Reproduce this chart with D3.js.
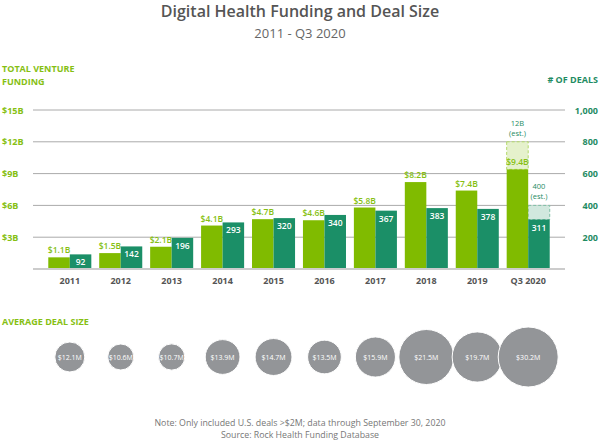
<!DOCTYPE html>
<html>
<head>
<meta charset="utf-8">
<script src="https://cdn.jsdelivr.net/npm/d3@7"></script>
<style>
  body { margin: 0; background: #fff; }
  svg { font-family: 'Open Sans', Lato, sans-serif; }
</style>
</head>
<body>
<div id="chart"></div>
<script>
const years = ['2011', '2012', '2013', '2014', '2015', '2016', '2017', '2018', '2019', 'Q3 2020']
const funding = [1.1, 1.5, 2.1, 4.1, 4.7, 4.6, 5.8, 8.2, 7.4, 9.4]
const deals = [92, 142, 196, 293, 320, 340, 367, 383, 378, 311]
const dealSize = [12.1, 10.6, 10.7, 13.9, 14.7, 13.5, 15.9, 21.5, 19.7, 30.2]
const fundingTicks = [3, 6, 9, 12, 15]
const dealTicks = [200, 400, 600, 800, 1000]
const estFunding = 12
const estDeals = 400

const lime = '#80bb00'
const dark = '#1b8f67'
const limeText = '#86bf13'
const darkText = '#1f8c63'

const width = 600
const height = 442

const svg = d3.select('#chart')
  .append('svg')
  .attr('width', width)
  .attr('height', height)

// titles
svg.append('text')
  .attr('x', 300).attr('y', 17)
  .attr('text-anchor', 'middle')
  .attr('fill', '#555')
  .attr('font-size', 16)
  .attr('font-weight', 600)
  .text('Digital Health Funding and Deal Size')

svg.append('text')
  .attr('x', 300).attr('y', 38)
  .attr('text-anchor', 'middle')
  .attr('fill', '#666')
  .attr('font-size', 13)
  .attr('font-weight', 400)
  .text('2011 - Q3 2020')

const x = d3.scaleBand()
  .domain(years)
  .range([33, 565])
  .paddingInner(0.155)
  .paddingOuter(0.3)

const half = x.bandwidth() / 2

const yFund = d3.scaleLinear().domain([0, 15]).range([269, 110])
const yDeals = d3.scaleLinear().domain([0, 1000]).range([269, 110])

// axis titles
svg.append('text')
  .attr('x', 2).attr('y', 72)
  .attr('fill', limeText)
  .attr('font-size', 9)
  .attr('font-weight', 700)
  .selectAll('tspan')
  .data(['TOTAL VENTURE', 'FUNDING'])
  .enter().append('tspan')
  .attr('x', 2)
  .attr('dy', (d, i) => i === 0 ? 0 : 12.5)
  .text(d => d)

svg.append('text')
  .attr('x', 598).attr('y', 83)
  .attr('text-anchor', 'end')
  .attr('fill', darkText)
  .attr('font-size', 9)
  .attr('font-weight', 700)
  .text('# OF DEALS')

// grid lines + left labels
svg.append('g')
  .selectAll('line')
  .data(fundingTicks)
  .enter().append('line')
  .attr('x1', 33).attr('x2', 565)
  .attr('y1', d => yFund(d)).attr('y2', d => yFund(d))
  .attr('stroke', '#aaa')
  .attr('stroke-width', 1)

svg.append('g')
  .selectAll('text')
  .data(fundingTicks)
  .enter().append('text')
  .attr('x', 2)
  .attr('y', d => yFund(d) + 3.5)
  .attr('fill', limeText)
  .attr('font-size', 9)
  .attr('font-weight', 700)
  .text(d => `$${d}B`)

svg.append('g')
  .selectAll('text')
  .data(dealTicks)
  .enter().append('text')
  .attr('x', 598)
  .attr('y', d => yDeals(d) + 3.5)
  .attr('text-anchor', 'end')
  .attr('fill', darkText)
  .attr('font-size', 9)
  .attr('font-weight', 700)
  .text(d => d3.format(',')(d))

const last = years[years.length - 1]

// estimated parts (dashed)
svg.append('rect')
  .attr('x', x(last))
  .attr('y', yFund(estFunding))
  .attr('width', half)
  .attr('height', yFund(funding[funding.length - 1]) - yFund(estFunding))
  .attr('fill', '#e5f1cc')
  .attr('stroke', '#b3d96a')
  .attr('stroke-dasharray', '3,2')

svg.append('rect')
  .attr('x', x(last) + half)
  .attr('y', yDeals(estDeals))
  .attr('width', half)
  .attr('height', yDeals(deals[deals.length - 1]) - yDeals(estDeals))
  .attr('fill', '#d1e8de')
  .attr('stroke', '#7fbfa6')
  .attr('stroke-dasharray', '3,2')

// bars
const groups = svg.append('g')
  .selectAll('g')
  .data(years)
  .enter().append('g')

groups.append('rect')
  .attr('x', d => x(d))
  .attr('y', (d, i) => yFund(funding[i]))
  .attr('width', half)
  .attr('height', (d, i) => yFund(0) - yFund(funding[i]))
  .attr('fill', lime)

groups.append('rect')
  .attr('x', d => x(d) + half)
  .attr('y', (d, i) => yDeals(deals[i]))
  .attr('width', half)
  .attr('height', (d, i) => yDeals(0) - yDeals(deals[i]))
  .attr('fill', dark)

// baseline
svg.append('line')
  .attr('x1', 33).attr('x2', 565)
  .attr('y1', yFund(0)).attr('y2', yFund(0))
  .attr('stroke', '#ccc')
  .attr('stroke-width', 2)

groups.append('text')
  .attr('x', d => x(d) + half / 2)
  .attr('y', (d, i) => yFund(funding[i]) - 4)
  .attr('text-anchor', 'middle')
  .attr('fill', limeText)
  .attr('font-size', 8.5)
  .attr('font-weight', 600)
  .text((d, i) => `$${funding[i]}B`)

groups.append('text')
  .attr('x', d => x(d) + half * 1.5)
  .attr('y', (d, i) => yDeals(deals[i]) + 11)
  .attr('text-anchor', 'middle')
  .attr('fill', '#fff')
  .attr('font-size', 8.5)
  .attr('font-weight', 600)
  .text((d, i) => deals[i])

groups.append('text')
  .attr('x', d => x(d) + x.bandwidth() / 2)
  .attr('y', 284)
  .attr('text-anchor', 'middle')
  .attr('fill', '#555')
  .attr('font-size', 9)
  .attr('font-weight', 700)
  .text(d => d)

// estimate labels
svg.append('text')
  .attr('x', x(last) + half / 2)
  .attr('y', yFund(estFunding) - 6)
  .attr('text-anchor', 'middle')
  .attr('fill', darkText)
  .attr('font-size', 7.5)
  .selectAll('tspan')
  .data(['12B', '(est.)'])
  .enter().append('tspan')
  .attr('x', x(last) + half / 2)
  .attr('dy', (d, i) => i === 0 ? -10 : 10)
  .text(d => d)

svg.append('text')
  .attr('x', x(last) + half * 1.5)
  .attr('y', yDeals(estDeals) - 6)
  .attr('text-anchor', 'middle')
  .attr('fill', darkText)
  .attr('font-size', 7.5)
  .selectAll('tspan')
  .data(['400', '(est.)'])
  .enter().append('tspan')
  .attr('x', x(last) + half * 1.5)
  .attr('dy', (d, i) => i === 0 ? -10 : 10)
  .text(d => d)

// average deal size
svg.append('text')
  .attr('x', 2).attr('y', 325)
  .attr('fill', limeText)
  .attr('font-size', 9)
  .attr('font-weight', 700)
  .text('AVERAGE DEAL SIZE')

const r = d3.scaleLinear()
  .domain([10.6, 21.5, 30.2])
  .range([13, 27.5, 30])

const bubbles = svg.append('g')
  .selectAll('g')
  .data(years)
  .enter().append('g')
  .attr('transform', d => `translate(${x(d) + x.bandwidth() / 2},357)`)

bubbles.append('circle')
  .attr('r', (d, i) => r(dealSize[i]))
  .attr('fill', '#939598')
  .attr('stroke', '#fff')
  .attr('stroke-width', 1)

bubbles.append('text')
  .attr('y', 2.5)
  .attr('text-anchor', 'middle')
  .attr('fill', '#fff')
  .attr('font-size', 7)
  .text((d, i) => `$${dealSize[i]}M`)

// footnotes
svg.append('text')
  .attr('x', 300).attr('y', 426)
  .attr('text-anchor', 'middle')
  .attr('fill', '#777')
  .attr('font-size', 8.8)
  .text('Note: Only included U.S. deals >$2M; data through September 30, 2020')

svg.append('text')
  .attr('x', 300).attr('y', 438)
  .attr('text-anchor', 'middle')
  .attr('fill', '#777')
  .attr('font-size', 8.8)
  .text('Source: Rock Health Funding Database')
</script>
</body>
</html>
